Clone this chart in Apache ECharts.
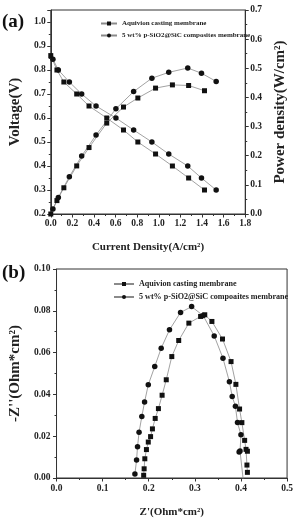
<!DOCTYPE html>
<html>
<head>
<meta charset="utf-8">
<script src="https://cdn.jsdelivr.net/npm/echarts@6/dist/echarts.min.js"></script>
<style>
html,body{margin:0;padding:0;background:#fff;}
#c{width:296px;height:519px;}
</style>
</head>
<body>
<div id="c"></div>
<script>
// ---- (a) polarization data ----
const currentAq = [0, 0.057, 0.121, 0.240, 0.354, 0.518, 0.673, 0.806, 0.970, 1.126, 1.276, 1.423];
const voltageAq = [0.86, 0.80, 0.75, 0.70, 0.65, 0.60, 0.55, 0.50, 0.45, 0.40, 0.35, 0.30];
const powerAq   = [0.000, 0.046, 0.090, 0.165, 0.228, 0.312, 0.367, 0.398, 0.432, 0.443, 0.441, 0.423];
const currentSi = [0.020, 0.070, 0.172, 0.286, 0.419, 0.603, 0.767, 0.936, 1.092, 1.268, 1.395, 1.531];
const voltageSi = [0.845, 0.80, 0.75, 0.70, 0.65, 0.60, 0.55, 0.50, 0.45, 0.40, 0.35, 0.30];
const powerSi   = [0.017, 0.057, 0.128, 0.199, 0.271, 0.361, 0.420, 0.466, 0.486, 0.501, 0.483, 0.455];

// ---- (b) Nyquist data ----
const reAq = [0.189, 0.190, 0.1915, 0.195, 0.199, 0.204, 0.208, 0.214, 0.221, 0.229, 0.238, 0.250, 0.265, 0.287, 0.3125, 0.3215, 0.337, 0.360, 0.3785, 0.389, 0.397, 0.402, 0.408, 0.411, 0.414, 0.413, 0.414];
const imAq = [0.0013, 0.0044, 0.0092, 0.0136, 0.0172, 0.0198, 0.0235, 0.0285, 0.0332, 0.0396, 0.0470, 0.0581, 0.0658, 0.0741, 0.0773, 0.0781, 0.0749, 0.0665, 0.0557, 0.0448, 0.0330, 0.0265, 0.0180, 0.0137, 0.0128, 0.0062, 0.0027];
const reSi = [0.170, 0.1736, 0.1757, 0.179, 0.185, 0.191, 0.199, 0.213, 0.227, 0.245, 0.269, 0.293, 0.318, 0.342, 0.361, 0.375, 0.381, 0.388, 0.3925, 0.400, 0.398, 0.396, 0.406];
const imSi = [0.0019, 0.0086, 0.0150, 0.0219, 0.0294, 0.0364, 0.0446, 0.0533, 0.0621, 0.0709, 0.0792, 0.0820, 0.0777, 0.0680, 0.0573, 0.0460, 0.0390, 0.0343, 0.0265, 0.0207, 0.0129, 0.0124, -0.003];

// ---- labels ----
const nameAq = 'Aquivion casting membrane';
const nameSiA = '5 wt% p-SiO2@SiC composites membrane';
const nameSiB = '5 wt% p-SiO2@SiC compoaites membrane';
const xTitleA = 'Current Density(A/cm\u00B2)';
const yTitleA = 'Voltage(V)';
const y2TitleA = 'Power density(W/cm\u00B2)';
const xTitleB = "Z'(Ohm*cm\u00B2)";
const yTitleB = "-Z''(Ohm*cm\u00B2)";

const zip = (a, b) => a.map((v, i) => [v, b[i]]);
const FONT = 'Liberation Serif';
const tick = {fontFamily: FONT, fontWeight: 'bold', fontSize: 9.5, color: '#222'};
const hTitle = {fontFamily: FONT, fontWeight: 'bold', fontSize: 11, color: '#222'};
const vTitle = {fontFamily: FONT, fontWeight: 'bold', fontSize: 15, color: '#222'};
const axisCommon = {
  axisLine: {show: true, onZero: false, lineStyle: {color: '#333', width: 1}},
  axisTick: {show: true, inside: false, length: 3.5, lineStyle: {color: '#333'}},
  minorTick: {show: true, splitNumber: 2, length: 2, lineStyle: {color: '#333'}},
  splitLine: {show: false},
  nameLocation: 'middle'
};
const lineSeries = (name, data, sym, xi, yi) => ({
  name, type: 'line', data, xAxisIndex: xi, yAxisIndex: yi,
  symbol: sym, symbolSize: sym === 'rect' ? 5 : 5.5,
  itemStyle: {color: '#111'},
  lineStyle: {color: '#8a8a8a', width: 0.8},
  clip: true, animation: false, z: 3
});

const chart = echarts.init(document.getElementById('c'), null, {renderer: 'canvas'});
chart.setOption({
  backgroundColor: '#fff',
  animation: false,
  grid: [
    {left: 49, top: 10, width: 211, height: 204, show: true, borderColor: '#333', borderWidth: 1},
    {left: 51, top: 269, width: 239, height: 209, show: true, borderColor: '#333', borderWidth: 1}
  ],
  xAxis: [
    Object.assign({}, axisCommon, {gridIndex: 0, type: 'value', min: 0, max: 1.8, interval: 0.2,
      name: xTitleA, nameGap: 28, nameTextStyle: hTitle,
      axisLabel: Object.assign({}, tick, {margin: 5, formatter: v => v.toFixed(1)})}),
    Object.assign({}, axisCommon, {gridIndex: 1, type: 'value', min: 0, max: 0.5, interval: 0.1,
      name: xTitleB, nameGap: 29, nameTextStyle: hTitle,
      axisLabel: Object.assign({}, tick, {margin: 6, formatter: v => v.toFixed(1)})})
  ],
  yAxis: [
    Object.assign({}, axisCommon, {gridIndex: 0, type: 'value', min: 0.2, max: 1.05, interval: 0.1,
      name: yTitleA, nameGap: 18.5, nameTextStyle: vTitle,
      axisLabel: Object.assign({}, tick, {margin: 5, formatter: v => (v > 1.02 ? '' : v.toFixed(1))})}),
    Object.assign({}, axisCommon, {gridIndex: 0, type: 'value', min: 0, max: 0.7, interval: 0.1, position: 'right',
      name: y2TitleA, nameGap: 21, nameRotate: 90, nameTextStyle: vTitle,
      axisLabel: Object.assign({}, tick, {margin: 5, formatter: v => v.toFixed(1)})}),
    Object.assign({}, axisCommon, {gridIndex: 1, type: 'value', min: 0, max: 0.1, interval: 0.02,
      name: yTitleB, nameGap: 23.5, nameTextStyle: vTitle,
      axisLabel: Object.assign({}, tick, {margin: 6, formatter: v => v.toFixed(2)})})
  ],
  legend: [
    {data: [nameAq, nameSiA], orient: 'vertical', left: 95, top: 15, itemWidth: 16, itemHeight: 5, itemGap: 5,
     textStyle: {fontFamily: FONT, fontWeight: 'bold', fontSize: 7, color: '#222'}, selectedMode: false},
    {data: [nameAq, nameSiB], orient: 'vertical', left: 108, top: 275, itemWidth: 20, itemHeight: 5, itemGap: 5,
     textStyle: {fontFamily: FONT, fontWeight: 'bold', fontSize: 8.1, color: '#222'}, selectedMode: false}
  ],
  graphic: [
    {type: 'text', left: 2, top: 13, style: {text: '(a)', font: 'bold 19px "Liberation Serif"', fill: '#111'}},
    {type: 'text', left: 2, top: 264, style: {text: '(b)', font: 'bold 19px "Liberation Serif"', fill: '#111'}}
  ],
  series: [
    lineSeries(nameAq, zip(currentAq, voltageAq), 'rect', 0, 0),
    lineSeries(nameSiA, zip(currentSi, voltageSi), 'circle', 0, 0),
    lineSeries(nameAq, zip(currentAq, powerAq), 'rect', 0, 1),
    lineSeries(nameSiA, zip(currentSi, powerSi), 'circle', 0, 1),
    lineSeries(nameAq, zip(reAq, imAq), 'rect', 1, 2),
    lineSeries(nameSiB, zip(reSi, imSi), 'circle', 1, 2)
  ]
});
</script>
</body>
</html>
